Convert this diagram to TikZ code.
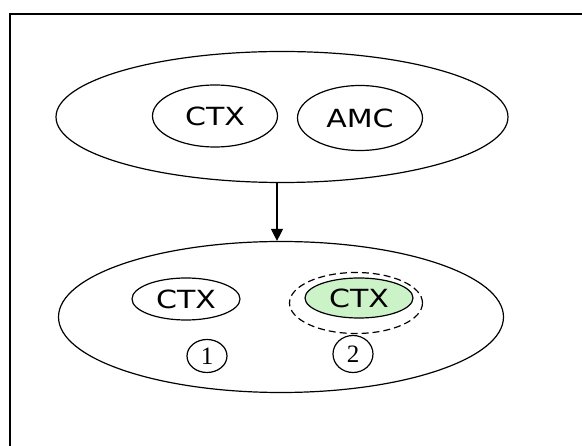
\documentclass[tikz,border=0pt]{standalone}
\usepackage{fontspec}
\setmainfont{Liberation Serif}
\newfontfamily\verd{DejaVu Sans}
\usetikzlibrary{shapes.geometric,arrows.meta}
\definecolor{lgreen}{RGB}{204,242,200}
\newcommand{\wide}[1]{\scalebox{1.2}[1]{#1}}
\tikzset{
  ell/.style={draw, ellipse, inner sep=0pt, line width=1.2pt},
  lbl/.style={font=\verd\fontsize{25}{28}\selectfont, text=black},
  num/.style={draw, ellipse, inner sep=0pt, line width=1.2pt, font=\fontsize{25}{28}\selectfont}
}
\begin{document}
\begin{tikzpicture}[x=1pt,y=-1pt]
\useasboundingbox (0,0) rectangle (582,446);
\draw[line width=2pt] (10,446) -- (10,14) -- (582,14);
% top group
\node[ell, minimum width=452pt, minimum height=131pt] (top) at (282,117) {};
\node[ell, lbl, minimum width=125pt, minimum height=62pt] (ctxa) at (215,116) {\wide{CTX}};
\node[ell, lbl, minimum width=125pt, minimum height=65pt] (amc) at (360,118) {\wide{AMC}};
% bottom group
\node[ell, minimum width=445pt, minimum height=151pt] (bot) at (281,317) {};
\node[ell, lbl, minimum width=108pt, minimum height=42pt] (ctxb) at (186,299) {\wide{CTX}};
\node[ell, dashed, dash pattern=on 7pt off 4pt, minimum width=133pt, minimum height=61pt] (dash) at (356,303) {};
\node[ell, lbl, fill=lgreen, minimum width=108pt, minimum height=40pt] (ctxc) at (359,298) {\wide{CTX}};
\node[num, minimum width=40pt, minimum height=33pt] (n1) at (207,356) {1};
\node[num, minimum width=40pt, minimum height=37pt] (n2) at (353,354) {2};
% arrow
\draw[line width=1.3pt, -{Triangle[width=12pt,length=12pt]}] ([xshift=-5pt]top.south) -- ([xshift=-4pt]bot.north);
\end{tikzpicture}
\end{document}
